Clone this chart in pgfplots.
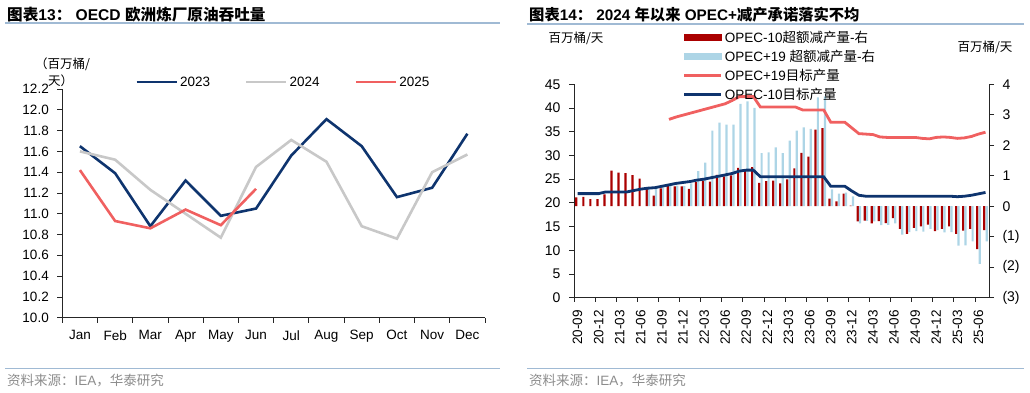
\documentclass[border=0pt]{standalone}
\usepackage{pgfplots}
\pgfplotsset{compat=1.18}
\usepackage{fontspec}
\setmainfont{Liberation Sans}
\newfontfamily\cjk{Noto Sans CJK SC}
\definecolor{navy}{RGB}{14,52,110}
\definecolor{lgray}{RGB}{200,200,200}
\definecolor{salmon}{RGB}{240,96,96}
\definecolor{dred}{RGB}{170,0,0}
\definecolor{lblue}{RGB}{173,213,230}
\definecolor{sepblue}{RGB}{160,186,212}
\definecolor{foot}{RGB}{140,140,140}
\newcommand{\fs}[1]{\fontsize{#1}{#1}\selectfont}
\begin{document}
\begin{tikzpicture}[x=1pt,y=1pt]
\useasboundingbox (0,0) rectangle (1030,392);
% titles and rules
\node[anchor=west,inner sep=0pt] at (7,377) {\fs{15.6}\bfseries{\cjk 图表}13{\cjk ：} OECD {\cjk 欧洲炼厂原油吞吐量}};
\node[anchor=west,inner sep=0pt] at (529,377) {\fs{15.3}\bfseries{\cjk 图表}14{\cjk ：} 2024 {\cjk 年以来} OPEC+{\cjk 减产承诺落实不均}};
\draw[sepblue,line width=1.2pt] (5,369) -- (500,369);
\draw[sepblue,line width=1.2pt] (527,368) -- (1024,368);
\draw[sepblue,line width=1pt] (5,24) -- (500,24);
\draw[sepblue,line width=1pt] (527,24) -- (1024,24);
\node[anchor=west,inner sep=0pt,text=foot] at (7,11.5) {\fs{13.5}{\cjk 资料来源：}IEA{\cjk ，华泰研究}};
\node[anchor=west,inner sep=0pt,text=foot] at (529,11.5) {\fs{13.5}{\cjk 资料来源：}IEA{\cjk ，华泰研究}};
% units
\node[inner sep=0pt] at (62.5,328) {\fs{12.5}\cjk （百万桶/};
\node[inner sep=0pt] at (60.5,311) {\fs{12.5}\cjk 天）};
\node[inner sep=0pt] at (576,354) {\fs{12.5}\cjk 百万桶/天};
\node[inner sep=0pt] at (985,345) {\fs{12.5}\cjk 百万桶/天};

% ---------------- left chart
\begin{axis}[
  at={(62.3pt,74.3pt)}, anchor=south west,
  scale only axis, width=422.7pt, height=228.7pt,
  xmin=0.5, xmax=12.5, ymin=10, ymax=12.2,
  axis lines*=left,
  axis line style={black!85, line width=0.8pt},
  every tick/.style={black!85, line width=0.8pt},
  tick align=outside,
  major tick length=5pt, minor tick length=5pt,
  xtick={1,...,12},
  xticklabels={Jan,Feb,Mar,Apr,May,Jun,Jul,Aug,Sep,Oct,Nov,Dec},
  major x tick style={draw=none},
  minor xtick={0.5,1.5,...,12.5},
  xticklabel shift=4pt,
  yticklabel shift=5pt,
  ytick={10,10.2,10.4,10.6,10.8,11,11.2,11.4,11.6,11.8,12,12.2},
  /pgf/number format/assume math mode=true,
  yticklabel style={/pgf/number format/.cd, fixed, fixed zerofill, precision=1},
  ticklabel style={font=\fs{13.5}},
  legend columns=3,
  legend style={draw=none, fill=none, at={(0.523,1.03)}, anchor=center, font=\fs{13.5},
    /tikz/every even column/.append style={column sep=33pt}},
  legend image code/.code={\draw[#1] (0pt,0pt) -- (40pt,0pt);},
]
\addplot[navy, line width=2.6pt] coordinates {(1,11.65)(2,11.39)(3,10.88)(4,11.32)(5,10.98)(6,11.05)(7,11.56)(8,11.91)(9,11.65)(10,11.16)(11,11.25)(12,11.77)};
\addlegendentry{2023}
\addplot[lgray, line width=2.6pt] coordinates {(1,11.60)(2,11.52)(3,11.23)(4,11.00)(5,10.77)(6,11.45)(7,11.71)(8,11.50)(9,10.88)(10,10.76)(11,11.40)(12,11.57)};
\addlegendentry{2024}
\addplot[salmon, line width=2.6pt] coordinates {(1,11.42)(2,10.93)(3,10.86)(4,11.04)(5,10.89)(6,11.24)};
\addlegendentry{2025}
\end{axis}

% ---------------- right chart: bars on right axis
\begin{axis}[
  at={(574pt,94.3pt)}, anchor=south west,
  scale only axis, width=415pt, height=213.4pt,
  xmin=-0.5, xmax=58.5, ymin=-3, ymax=4,
  axis x line=none,
  axis y line*=right,
  axis line style={black!85, line width=0.8pt},
  every tick/.style={black!85, line width=0.8pt},
  tick align=outside, major tick length=5pt,
  yticklabel shift=5pt,
  ytick={-3,-2,-1,0,1,2,3,4},
  yticklabels={(3),(2),(1),0,1,2,3,4},
  ticklabel style={font=\fs{14}},
]
\addplot[ybar, bar width=2.2pt, bar shift=-1.2pt, fill=dred, draw=none] coordinates {
(0,0.29)(1,0.31)(2,0.23)(3,0.23)(4,0.39)(5,1.17)(6,1.10)(7,1.09)(8,1.02)(9,0.91)
(10,0.56)(11,0.35)(12,0.59)(13,0.66)(14,0.65)(15,0.65)(16,0.57)(17,0.79)(18,0.84)(19,0.81)
(20,1.03)(21,0.98)(22,1.01)(23,1.26)(24,1.20)(25,1.28)(26,0.77)(27,0.82)(28,0.84)(29,0.75)
(30,0.88)(31,1.24)(32,1.75)(33,1.63)(34,2.51)(35,2.56)(36,0.25)(37,0.16)(38,0.41)(39,0.02)
(40,-0.50)(41,-0.47)(42,-0.56)(43,-0.49)(44,-0.55)(45,-0.39)(46,-0.74)(47,-0.91)(48,-0.71)(49,-0.66)
(50,-0.60)(51,-0.82)(52,-0.74)(53,-0.66)(54,-0.91)(55,-0.80)(56,-0.74)(57,-1.41)(58,-0.78)};
\addplot[ybar, bar width=2.2pt, bar shift=1.2pt, fill=lblue, draw=none] coordinates {
(10,0.62)(11,0.60)(12,0.62)(13,0.66)(14,0.68)(15,0.66)(16,0.75)(17,1.15)(18,1.43)(19,2.48)
(20,2.74)(21,2.68)(22,2.68)(23,3.36)(24,3.44)(25,3.23)(26,1.74)(27,1.77)(28,1.93)(29,1.74)
(30,2.15)(31,2.48)(32,2.59)(33,2.54)(34,3.57)(35,3.60)(36,0.55)(37,0.41)(38,0.45)(39,0.32)
(40,-0.56)(41,-0.48)(42,-0.50)(43,-0.62)(44,-0.61)(45,-0.56)(46,-0.93)(47,-0.85)(48,-0.82)(49,-0.83)
(50,-0.74)(51,-0.78)(52,-0.86)(53,-0.85)(54,-1.29)(55,-1.28)(56,-1.15)(57,-1.89)(58,-1.15)};
\end{axis}

% ---------------- right chart: lines on left axis
\begin{axis}[
  at={(574pt,94.3pt)}, anchor=south west,
  scale only axis, width=415pt, height=213.4pt,
  xmin=-0.5, xmax=58.5, ymin=0, ymax=45,
  axis x line*=bottom, axis y line*=left,
  axis line style={black!85, line width=0.8pt},
  every tick/.style={black!85, line width=0.8pt},
  tick align=outside, major tick length=5pt, minor tick length=4pt,
  ytick={0,5,...,45},
  xtick={0,3,...,57},
  xticklabels={20-09,20-12,21-03,21-06,21-09,21-12,22-03,22-06,22-09,22-12,23-03,23-06,23-09,23-12,24-03,24-06,24-09,24-12,25-03,25-06},
  major x tick style={draw=none},
  minor xtick={-0.5,2.5,...,56.5},
  xticklabel shift=4pt,
  yticklabel shift=5pt,
  xticklabel style={rotate=90, anchor=east, font=\fs{13.5}},
  yticklabel style={font=\fs{14}},
  /pgf/number format/assume math mode=true,
  legend cell align=left,
  legend style={draw=none, fill=none, at={(0.255,1.27)}, anchor=north west, font=\fs{13.5}, row sep=2.2pt},
  legend image code/.code={\draw[#1] (0pt,0pt) -- (37pt,0pt);},
]
\addlegendimage{legend image code/.code={\fill[dred] (0pt,-3pt) rectangle (37pt,3pt);}}
\addlegendentry{OPEC-10{\cjk 超额减产量}-{\cjk 右}}
\addlegendimage{legend image code/.code={\fill[lblue] (0pt,-3pt) rectangle (37pt,3pt);}}
\addlegendentry{OPEC+19 {\cjk 超额减产量}-{\cjk 右}}
\addplot[salmon, line width=2.8pt] coordinates {
(13,37.6)(14,38.1)(15,38.5)(16,38.9)(17,39.3)(18,39.7)(19,40.1)(20,40.5)(21,40.9)(22,41.6)
(23,42.4)(24,42.4)(25,42.4)(26,40.2)(27,40.2)(28,40.2)(29,40.2)(30,40.2)(31,40.2)(32,39.6)
(33,39.6)(34,39.6)(35,39.6)(36,37.0)(37,37.0)(38,37.0)(39,35.8)(40,34.6)(41,34.5)(42,34.4)
(43,33.9)(44,33.8)(45,33.8)(46,33.8)(47,33.8)(48,33.8)(49,33.6)(50,33.5)(51,33.8)(52,33.9)
(53,33.8)(54,33.6)(55,33.7)(56,34.0)(57,34.5)(58,34.9)};
\addlegendentry{OPEC+19{\cjk 目标产量}}
\addplot[navy, line width=2.8pt] coordinates {
(0,21.95)(1,21.95)(2,21.95)(3,21.95)(4,22.3)(5,22.3)(6,22.3)(7,22.3)(8,22.6)(9,22.9)
(10,23.1)(11,23.2)(12,23.5)(13,23.8)(14,24.1)(15,24.3)(16,24.5)(17,24.8)(18,25.0)(19,25.3)
(20,25.6)(21,25.9)(22,26.2)(23,26.7)(24,26.9)(25,26.9)(26,25.5)(27,25.5)(28,25.5)(29,25.5)
(30,25.5)(31,25.5)(32,25.5)(33,25.5)(34,25.5)(35,25.5)(36,23.5)(37,23.5)(38,23.5)(39,22.5)
(40,21.6)(41,21.4)(42,21.4)(43,21.4)(44,21.4)(45,21.4)(46,21.4)(47,21.4)(48,21.4)(49,21.4)
(50,21.4)(51,21.4)(52,21.4)(53,21.4)(54,21.3)(55,21.4)(56,21.6)(57,21.9)(58,22.2)};
\addlegendentry{OPEC-10{\cjk 目标产量}}
\end{axis}
\end{tikzpicture}
\end{document}
